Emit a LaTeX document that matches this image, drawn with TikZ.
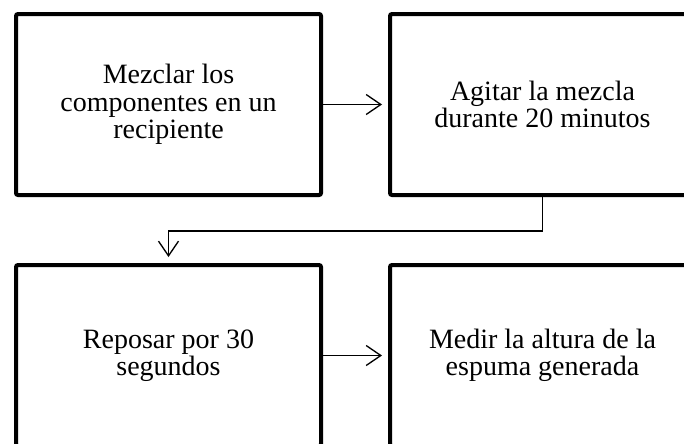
\documentclass[tikz,border=0pt]{standalone}
\usepackage{fontspec}
\setmainfont{Liberation Serif}
\usetikzlibrary{arrows.meta}

\tikzset{
  stepbox/.style={draw, line width=3pt, rounded corners=1.5pt, minimum width=228.75pt, minimum height=135.75pt, align=center, font=\fontsize{21}{20.6}\selectfont},
  flow/.style={line width=1pt, -{Straight Barb[length=11pt,width=15pt,line width=1pt]}, shorten >=4.5pt}
}

\begin{document}
\begin{tikzpicture}[x=0.75pt,y=0.75pt,yscale=-1,xscale=1]
\useasboundingbox (0,0) rectangle (684,443);

% Boxes
\node[stepbox] (mezclar) at (168.5,104.5) {Mezclar los\\componentes en un\\recipiente};
\node[stepbox] (agitar) at (542.5,104.5) {Agitar la mezcla\\durante 20 minutos};
\node[stepbox] (reposar) at (168.5,355.5) {Reposar por 30\\segundos};
\node[stepbox] (medir) at (542.5,355.5) {Medir la altura de la\\espuma generada};

% Connectors
\draw[flow] (mezclar.east) -- (agitar.west);
\draw[flow] (agitar.south) -- ++(0,34) -| (reposar.north);
\draw[flow] (reposar.east) -- (medir.west);

\end{tikzpicture}
\end{document}
